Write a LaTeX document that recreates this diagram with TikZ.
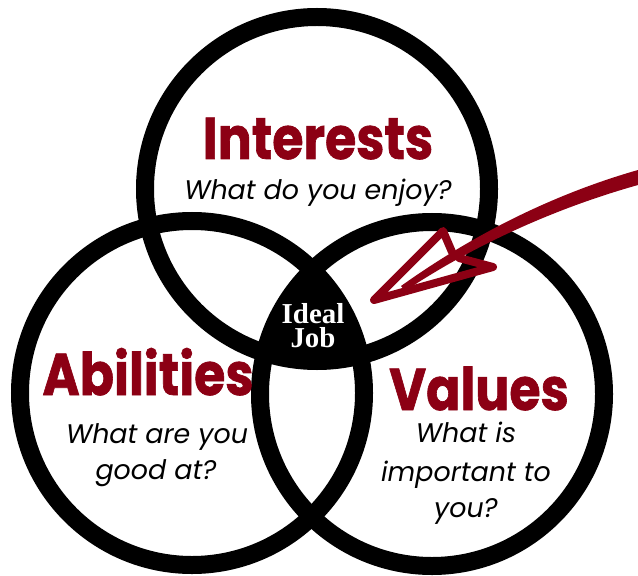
\documentclass[tikz,border=0pt]{standalone}
\usepackage{fontspec}
\newfontfamily\headfont{Poppins}[BoldFeatures={FakeBold=1.2}]
\newfontfamily\askfont{Poppins}
\newfontfamily\idealfont{Liberation Serif}
\definecolor{wine}{RGB}{140,0,20}
\newcommand{\narrow}[1]{\scalebox{0.86}[1]{#1}}
\begin{document}
\begin{tikzpicture}[x=1bp,y=-1bp,
  ring/.style={draw=black,line width=18bp},
  head/.style={text=wine,font=\headfont\bfseries\fontsize{59}{59}\selectfont,inner sep=0pt,anchor=base,
    text height=44bp,text depth=1bp},
  ask/.style={text=black,font=\askfont\itshape\fontsize{27}{27}\selectfont,inner sep=0pt,anchor=base,
    text height=20bp,text depth=7bp},
  ideal/.style={text=white,font=\idealfont\bfseries\fontsize{29}{24}\selectfont,inner sep=0pt,
    align=center},
  arrowink/.style={draw=wine,line width=8bp,line join=round,line cap=round},
]
% canvas
\fill[white] (0,0) rectangle (638,576);
\useasboundingbox (0,0) rectangle (638,576);

% circle centres
\coordinate (cI) at (317,189);
\coordinate (cA) at (192,393);
\coordinate (cV) at (432,394);

% common region of all three circles
\begin{scope}
  \clip (cI) circle[radius=172bp];
  \clip (cA) circle[radius=172bp];
  \fill[black] (cV) circle[radius=172bp];
\end{scope}

% rings
\draw[ring] (cI) circle[radius=172bp];
\draw[ring] (cA) circle[radius=172bp];
\draw[ring] (cV) circle[radius=172bp];

% labels
\node[head] (interests) at (318,159) {\narrow{Interests}};
\node[ask] (enjoy) at (318,199) {What do you enjoy?};

\node[head] (abilities) at (148,395) {\narrow{Abilities}};
\node[ask] (good1) at (157,443) {What are you};
\node[ask] (good2) at (156,479) {good at?};

\node[head] (values) at (479,410) {\narrow{Values}};
\node[ask] (imp1) at (466,442) {What is};
\node[ask] (imp2) at (466,481) {important to};
\node[ask] (imp3) at (466,517) {you?};

\node[ideal] (ideal) at (313,326) {Ideal\\Job};

% hand-drawn pointer
\coordinate (tail) at (638,177);
\coordinate (tip) at (374,300);
\fill[wine] (638,170) .. controls (540,198) and (460,244) .. (401,286)
  -- (405,291) .. controls (462,253) and (542,212) .. (638,185) -- cycle;
\draw[arrowink] (452,252) -- (443,231) -- (tip) -- (493,267) -- (459,258);
\end{tikzpicture}
\end{document}
